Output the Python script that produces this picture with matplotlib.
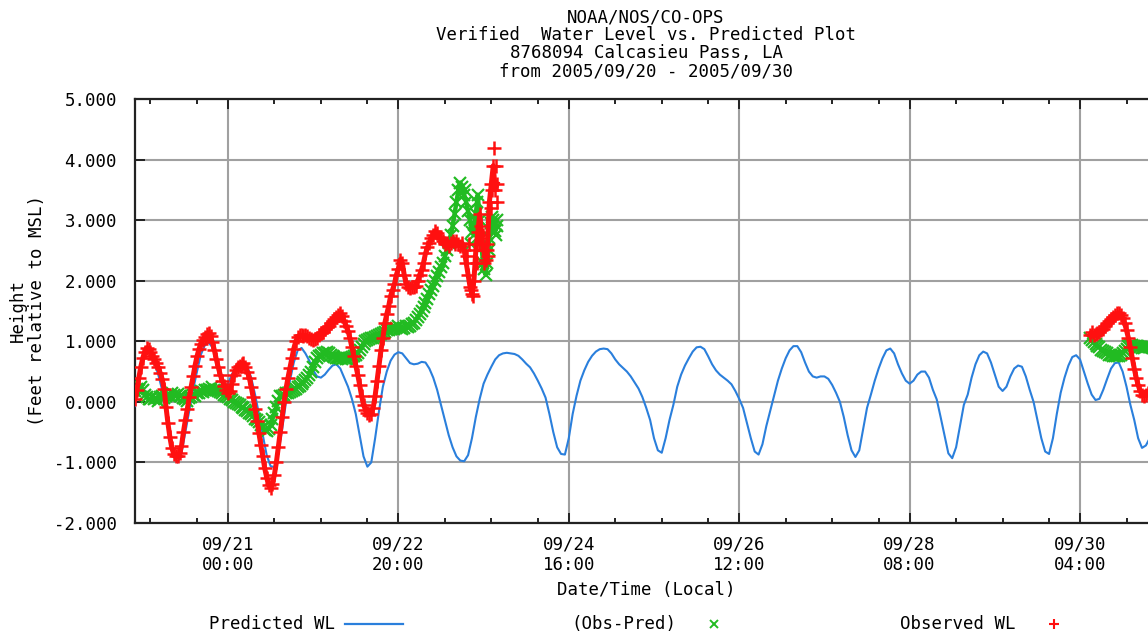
import numpy as np
import matplotlib
matplotlib.use("Agg")
import matplotlib.pyplot as plt
from matplotlib.lines import Line2D
from matplotlib.ticker import FixedLocator

# ---- data (time = hours since 2005-09-20 00:00 local) ----
# predicted water level, hourly from hour 0
pred_start, pred_step = 0, 1.0
pred_wl = [-0.07, 0.35, 0.65, 0.82, 0.8, 0.65, 0.45, 0.2, -0.15, -0.55,
           -0.9, -1.0, -0.85, -0.5, -0.15, 0.2, 0.5, 0.78, 0.93, 0.98,
           0.9, 0.72, 0.45, 0.25, 0.3, 0.45, 0.58, 0.65, 0.67, 0.58,
           0.4, 0.12, -0.2, -0.55, -0.88, -1.06, -1.08, -0.85, -0.45, 0.0,
           0.35, 0.65, 0.85, 0.89, 0.8, 0.68, 0.52, 0.42, 0.4, 0.45,
           0.53, 0.6, 0.62, 0.55, 0.4, 0.25, 0.05, -0.2, -0.55, -0.9,
           -1.07, -1.0, -0.6, -0.15, 0.25, 0.5, 0.68, 0.78, 0.82, 0.8,
           0.72, 0.64, 0.62, 0.63, 0.66, 0.65, 0.55, 0.4, 0.2, -0.05,
           -0.3, -0.55, -0.75, -0.9, -0.97, -0.98, -0.88, -0.6, -0.25, 0.05,
           0.3, 0.45, 0.58, 0.7, 0.77, 0.8, 0.81, 0.8, 0.79, 0.76,
           0.7, 0.63, 0.57, 0.47, 0.35, 0.22, 0.07, -0.2, -0.5, -0.75,
           -0.86, -0.87, -0.6, -0.2, 0.1, 0.35, 0.52, 0.66, 0.76, 0.83,
           0.87, 0.88, 0.87, 0.8, 0.7, 0.62, 0.56, 0.5, 0.42, 0.32,
           0.22, 0.08, -0.1, -0.3, -0.6, -0.8, -0.84, -0.6, -0.3, -0.05,
           0.25, 0.45, 0.6, 0.72, 0.83, 0.9, 0.91, 0.87, 0.75, 0.62,
           0.52, 0.45, 0.4, 0.35, 0.29, 0.18, 0.05, -0.1, -0.35, -0.6,
           -0.82, -0.87, -0.7, -0.4, -0.15, 0.1, 0.35, 0.55, 0.72, 0.85,
           0.92, 0.92, 0.82, 0.65, 0.5, 0.42, 0.4, 0.42, 0.42, 0.38,
           0.28, 0.15, 0.0, -0.25, -0.55, -0.8, -0.91, -0.8, -0.45, -0.1,
           0.12, 0.35, 0.55, 0.72, 0.85, 0.88, 0.8, 0.62, 0.47, 0.35,
           0.3, 0.35, 0.45, 0.5, 0.5, 0.4, 0.2, 0.04, -0.25, -0.55,
           -0.85, -0.93, -0.75, -0.4, -0.05, 0.12, 0.4, 0.62, 0.77, 0.83,
           0.8, 0.65, 0.45, 0.25, 0.18, 0.25, 0.42, 0.55, 0.6, 0.58,
           0.42, 0.2, 0.0, -0.3, -0.6, -0.82, -0.86, -0.6, -0.2, 0.15,
           0.4, 0.6, 0.74, 0.77, 0.7, 0.5, 0.3, 0.12, 0.03, 0.05,
           0.2, 0.38, 0.55, 0.64, 0.65, 0.5, 0.25, -0.05, -0.3, -0.6,
           -0.76, -0.72, -0.6, -0.45, -0.3]

# observed water level, half-hourly, first segment from hour 0
obs1_start = 0.0
obs1_wl = [0.05, 0.2, 0.4, 0.58, 0.72, 0.83, 0.89, 0.88, 0.82, 0.76,
           0.7, 0.64, 0.57, 0.48, 0.38, 0.22, -0.08, -0.35, -0.58, -0.76,
           -0.86, -0.9, -0.9, -0.85, -0.73, -0.5, -0.3, -0.12, 0.08, 0.25,
           0.42, 0.6, 0.75, 0.87, 0.96, 1.02, 1.07, 1.12, 1.14, 1.08,
           0.98, 0.85, 0.7, 0.57, 0.45, 0.35, 0.27, 0.2, 0.15, 0.18,
           0.3, 0.45, 0.52, 0.58, 0.6, 0.63, 0.64, 0.58, 0.5, 0.4,
           0.25, 0.08, -0.12, -0.32, -0.52, -0.72, -0.9, -1.1, -1.25, -1.38,
           -1.42, -1.35, -1.2, -1.0, -0.75, -0.5, -0.25, 0.0, 0.22, 0.4,
           0.56, 0.72, 0.88, 1.0, 1.07, 1.1, 1.1, 1.08, 1.1, 1.08,
           1.05, 1.03, 1.02, 1.03, 1.06, 1.1, 1.13, 1.16, 1.2, 1.23,
           1.26, 1.3, 1.33, 1.37, 1.4, 1.44, 1.47, 1.42, 1.33, 1.25,
           1.17, 1.05, 0.9, 0.76, 0.6, 0.45, 0.28, 0.1, -0.05, -0.13,
           -0.18, -0.21, -0.2, -0.1, 0.1, 0.35, 0.6, 0.85, 1.05, 1.3,
           1.45, 1.58, 1.75, 1.85, 1.95, 2.1, 2.2, 2.35, 2.3, 2.1,
           1.95, 1.9, 1.88, 1.9, 1.89, 1.92, 2.0, 2.1, 2.18, 2.3,
           2.45, 2.55, 2.63, 2.7, 2.75, 2.82, 2.78, 2.72, 2.7, 2.65,
           2.6, 2.62, 2.58, 2.62, 2.66, 2.6, 2.66, 2.6, 2.58, 2.62,
           2.5, 2.3, 2.1, 1.9, 1.78, 2.0, 2.5, 2.8, 3.1, 2.7,
           2.5, 2.35, 2.6, 3.3, 3.6, 3.9, 3.5, 3.6]
# observed, second segment (09/30), half-hourly
obs2_start = 246.5
obs2_wl = [1.1, 1.15, 1.1, 1.12, 1.14, 1.15, 1.18, 1.2, 1.25, 1.3,
           1.34, 1.37, 1.4, 1.43, 1.46, 1.47, 1.44, 1.38, 1.3, 1.18,
           1.05, 0.9, 0.72, 0.55, 0.4, 0.28, 0.18, 0.12, 0.1, 0.11,
           0.15, 0.18, 0.2]
# scattered observed readings during the surge
obs_scatter_hours = [85.8, 86.3, 86.8, 87.2, 88.3, 88.8, 89.3, 89.8, 90.2, 90.8,
                     91.2, 91.8, 92.3, 92.8, 93.2, 93.4]
obs_scatter_wl = [2.4, 2.6, 1.85, 1.75, 2.3, 2.6, 2.9, 2.75, 2.3, 2.5,
                  2.4, 3.2, 3.5, 4.19, 3.9, 3.3]

# observed minus predicted, half-hourly
diff1_start = 0.0
diff1_wl = [0.18, 0.22, 0.2, 0.25, 0.2, 0.12, 0.08, 0.05, 0.04, 0.08,
            0.04, 0.06, 0.02, 0.08, 0.1, 0.06, 0.09, 0.12, 0.1, 0.14,
            0.12, 0.1, 0.13, 0.1, 0.1, 0.06, 0.04, 0.02, 0.06, 0.08,
            0.12, 0.1, 0.15, 0.15, 0.18, 0.16, 0.2, 0.2, 0.22, 0.2,
            0.24, 0.2, 0.2, 0.18, 0.16, 0.14, 0.12, 0.09, 0.08, 0.05,
            0.03, 0.0, -0.02, -0.04, -0.06, -0.09, -0.1, -0.13, -0.15, -0.18,
            -0.2, -0.24, -0.28, -0.3, -0.34, -0.38, -0.42, -0.46, -0.48, -0.44,
            -0.38, -0.28, -0.18, -0.08, 0.02, 0.09, 0.1, 0.12, 0.14, 0.15,
            0.16, 0.18, 0.2, 0.22, 0.25, 0.27, 0.3, 0.33, 0.36, 0.4,
            0.44, 0.5, 0.58, 0.66, 0.72, 0.75, 0.78, 0.8, 0.8, 0.82,
            0.81, 0.78, 0.76, 0.74, 0.72, 0.73, 0.72, 0.7, 0.72, 0.7,
            0.7, 0.72, 0.74, 0.76, 0.78, 0.8, 0.85, 0.9, 0.95, 1.0,
            1.02, 1.03, 1.05, 1.05, 1.07, 1.08, 1.1, 1.12, 1.14, 1.16,
            1.18, 1.19, 1.2, 1.22, 1.2, 1.22, 1.25, 1.22, 1.2, 1.22,
            1.25, 1.24, 1.26, 1.28, 1.3, 1.35, 1.4, 1.45, 1.5, 1.57,
            1.63, 1.7, 1.78, 1.85, 1.92, 2.0, 2.08, 2.15, 2.22, 2.3,
            2.4, 2.5, 2.62, 2.75, 2.9, 3.1, 3.3, 3.5, 3.62, 3.55,
            3.42, 3.3, 3.15, 3.0, 2.8, 2.75, 3.1, 3.42, 3.0, 2.55,
            2.2, 2.1, 2.3, 2.7, 2.95, 3.0, 2.82, 2.9]
diff2_start = 246.5
diff2_wl = [1.05, 1.02, 0.98, 0.95, 0.92, 0.9, 0.86, 0.84, 0.82, 0.8,
            0.78, 0.78, 0.76, 0.75, 0.75, 0.76, 0.78, 0.8, 0.84, 0.88,
            0.92, 0.94, 0.94, 0.92, 0.92, 0.9, 0.9, 0.89, 0.89, 0.9,
            0.92, 0.9, 0.9]
diff_scatter_hours = [85.3, 86.8, 87.8, 88.2, 89.2, 89.8, 90.3, 90.8, 91.3, 92.2,
                      93.2, 93.4]
diff_scatter_wl = [3.5, 2.6, 3.0, 3.3, 2.7, 2.3, 2.4, 2.6, 2.5, 3.05,
                   2.75, 3.0]

major_hours = [24, 68, 112, 156, 200, 244]
major_labels = ["09/21\n00:00", "09/22\n20:00", "09/24\n16:00",
                "09/26\n12:00", "09/28\n08:00", "09/30\n04:00"]
minor_hours = [4, 16, 36, 48, 60, 80, 92, 104, 124, 136, 148, 168, 180, 192,
               212, 224, 236, 256]
y_ticks = [-2, -1, 0, 1, 2, 3, 4, 5]
y_labels = ["-2.000", "-1.000", "0.000", "1.000", "2.000", "3.000", "4.000", "5.000"]

title_lines = ["NOAA/NOS/CO-OPS",
               "Verified  Water Level vs. Predicted Plot",
               "8768094 Calcasieu Pass, LA",
               "from 2005/09/20 - 2005/09/30"]


def times(start, step, values):
    return start + step * np.arange(len(values))


# ---- styling ----
MONO = "DejaVu Sans Mono"
FS = 12.5
BLUE = "#2a7fdc"
GREEN = "#22bb22"
RED = "#ff1010"
W, H = 1148, 632

fig = plt.figure(figsize=(W / 100, H / 100), dpi=100)
ax = fig.add_axes([135 / W, (H - 523) / H, (1157.5 - 135) / W, 424 / H])

ax.plot(times(pred_start, pred_step, pred_wl), pred_wl, color=BLUE, lw=1.5, zorder=3)

green_kw = dict(color=GREEN, marker="x", ms=8, mew=1.6, zorder=4)
for st, vals in [(diff1_start, diff1_wl), (diff2_start, diff2_wl)]:
    ax.plot(times(st, 0.5, vals), vals, lw=3.2, **green_kw)
ax.plot(diff_scatter_hours, diff_scatter_wl, ls="none", **green_kw)

red_kw = dict(color=RED, marker="+", ms=10, mew=1.8, zorder=5)
for st, vals in [(obs1_start, obs1_wl), (obs2_start, obs2_wl)]:
    ax.plot(times(st, 0.5, vals), vals, lw=3.6, **red_kw)
ax.plot(obs_scatter_hours, obs_scatter_wl, ls="none", **red_kw)

ax.set_xlim(0, 264)
ax.set_ylim(-2, 5)
ax.xaxis.set_major_locator(FixedLocator(major_hours))
ax.xaxis.set_minor_locator(FixedLocator(minor_hours))
ax.set_xticklabels(major_labels, fontfamily=MONO, fontsize=FS, linespacing=1.15)
ax.set_yticks(y_ticks)
ax.set_yticklabels(y_labels, fontfamily=MONO, fontsize=FS)
ax.tick_params(axis="both", which="major", direction="in", length=7, width=1.4,
               top=True, right=True, color="#222222")
ax.tick_params(axis="both", which="minor", direction="in", length=3.5, width=1.4,
               top=True, right=True, color="#222222")
ax.tick_params(axis="x", which="major", pad=9)
ax.tick_params(axis="y", which="major", pad=13)
ax.grid(True, which="major", color="#a0a0a0", lw=1.5, zorder=0)
for s in ax.spines.values():
    s.set_linewidth(1.6)
    s.set_color("#222222")

ax.set_xlabel("Date/Time (Local)", fontfamily=MONO, fontsize=FS, labelpad=5)
ax.set_ylabel("Height\n(Feet relative to MSL)", fontfamily=MONO, fontsize=FS,
              linespacing=1.05, labelpad=6)

cx = 646 / W
for i, t in enumerate(title_lines):
    fig.text(cx, 1 - (17 + 18 * i) / H, t, ha="center", va="center",
             fontfamily=MONO, fontsize=FS)

# legend row
ly = 1 - 624 / H
entries = [("Predicted WL", 335, "line"), ("(Obs-Pred)", 676, "x"), ("Observed WL", 1015, "+")]
for label, xr, kind in entries:
    fig.text(xr / W, ly, label, ha="right", va="center", fontfamily=MONO, fontsize=FS)
    if kind == "line":
        fig.add_artist(Line2D([345 / W, 403 / W], [ly, ly], color=BLUE, lw=1.6,
                              transform=fig.transFigure))
    elif kind == "x":
        fig.add_artist(Line2D([714 / W], [ly], ls="none", marker="x", ms=6, mew=1.4,
                              color=GREEN, transform=fig.transFigure))
    else:
        fig.add_artist(Line2D([1054 / W], [ly], ls="none", marker="+", ms=7, mew=1.5,
                              color=RED, transform=fig.transFigure))

fig.savefig("out.png", dpi=100)
